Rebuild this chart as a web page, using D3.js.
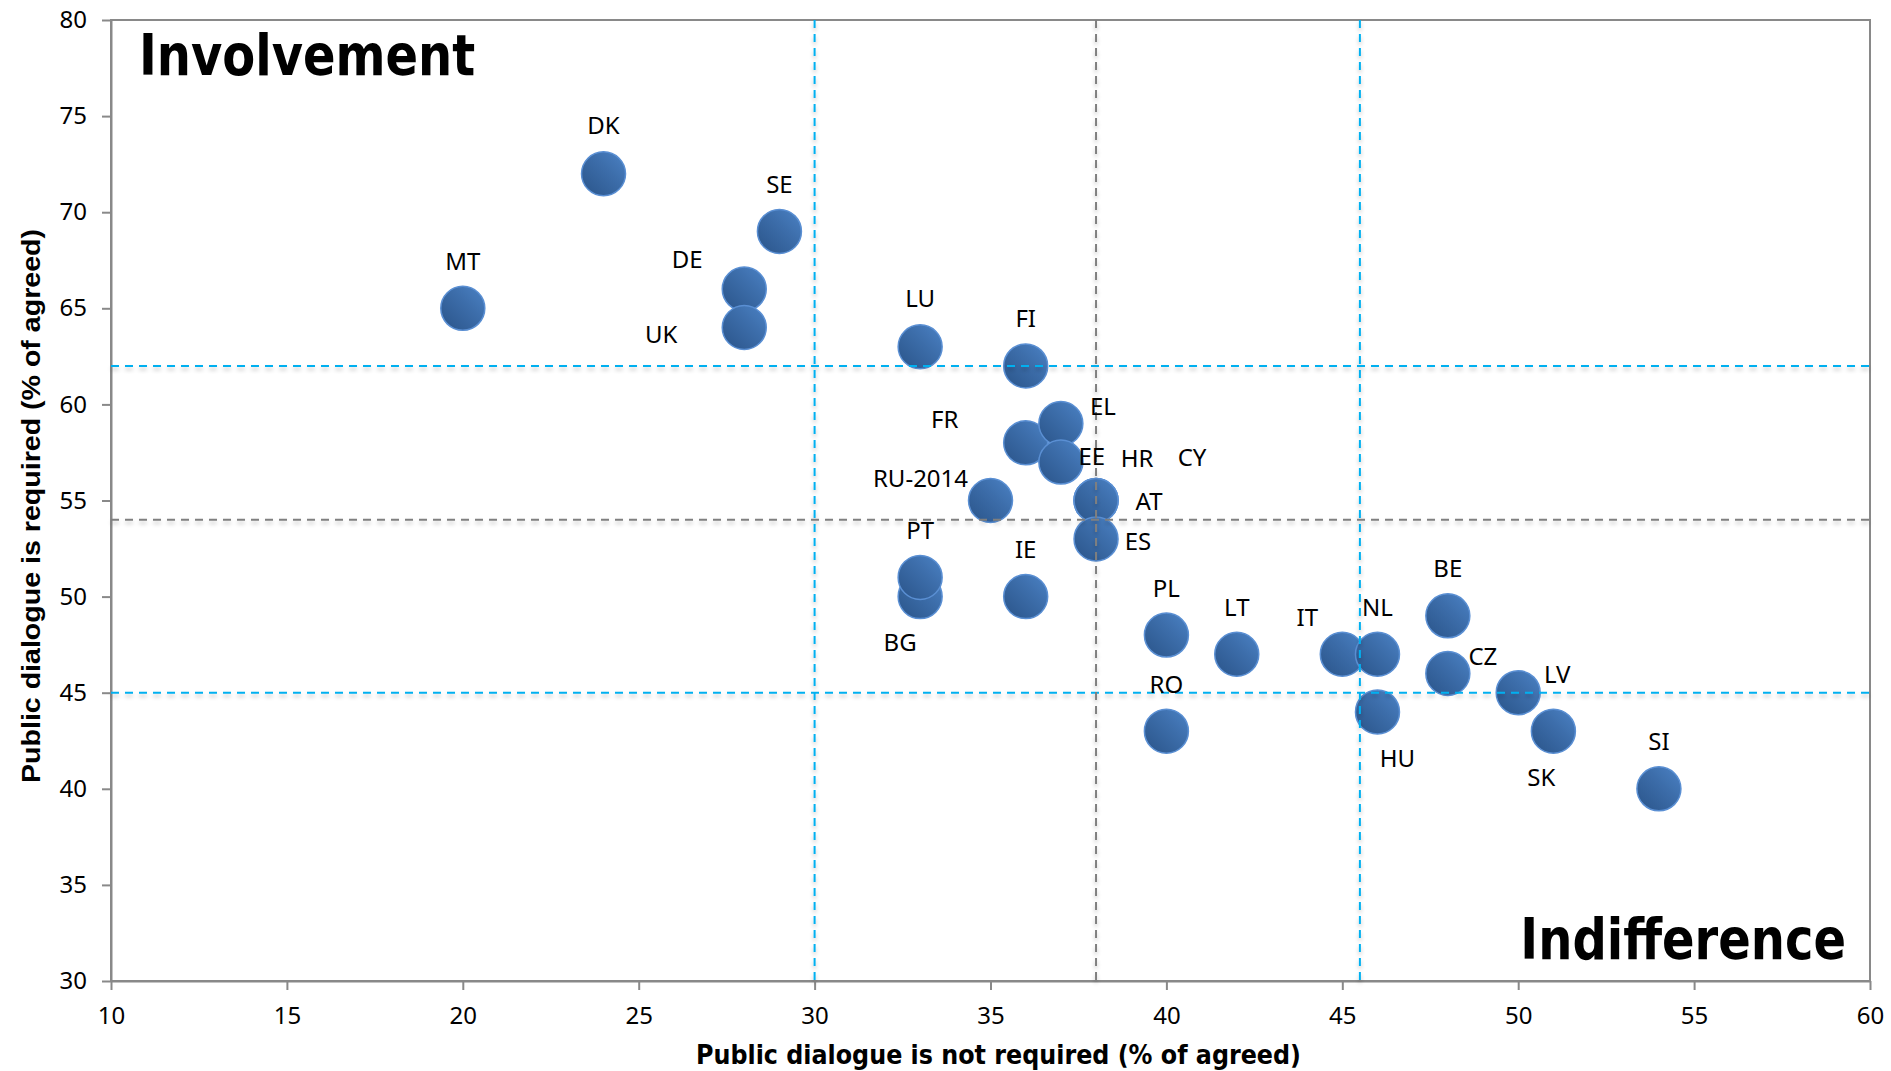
<!DOCTYPE html>
<meta charset="utf-8">
<style>
body { margin: 0; background: #fff; }
.tick text { font-family: "Noto Sans", sans-serif; font-size: 24px; fill: #000; }
.axis path, .axis line { stroke: #898989; stroke-width: 2px; }
.lbl { font-family: "Noto Sans", sans-serif; font-size: 24px; fill: #000; text-anchor: middle; }
.ref { fill: none; stroke-width: 2px; stroke-dasharray: 8,6; }
.quad { font-family: "DejaVu Sans", sans-serif; font-weight: bold; font-size: 48px; }
</style>
<body>
<script src="https://cdn.jsdelivr.net/npm/d3@7"></script>
<svg id="chart" width="1891" height="1071"></svg>
<script>
// data
var countries   = ["DK","SE","MT","DE","UK","LU","FI","FR","EL","EE","RU-2014","HR","CY","AT","ES","BG","PT","IE","PL","RO","LT","IT","NL","HU","BE","CZ","LV","SK","SI"];
var notRequired = [24, 29, 20, 28, 28, 33, 36, 36, 37, 37, 35, 38, 38, 38, 38, 33, 33, 36, 40, 40, 42, 45, 46, 46, 48, 48, 50, 51, 54];
var required    = [72, 69, 65, 66, 64, 63, 62, 58, 59, 57, 55, 55, 55, 55, 53, 50, 51, 50, 48, 43, 47, 47, 47, 44, 49, 46, 45, 43, 40];

var xTicks = [10, 15, 20, 25, 30, 35, 40, 45, 50, 55, 60];
var yTicks = [30, 35, 40, 45, 50, 55, 60, 65, 70, 75, 80];

var bandX = [30, 45.5];   // blue dashed
var bandY = [62, 45];
var meanX = [38];         // grey dashed
var meanY = [54];

// label placement relative to the bubble (px)
var labelOffset = {
  "DK":[0,-48], "SE":[0,-47], "MT":[0,-47], "DE":[-57,-30], "UK":[-83,7],
  "LU":[0,-48], "FI":[0,-48], "EL":[42,-17], "FR":[-81,-23], "EE":[31,-6],
  "HR":[41,-42], "CY":[96,-43], "AT":[53,1], "ES":[42,2], "RU-2014":[-70,-22],
  "PT":[0,-47], "BG":[-20,46], "IE":[0,-47], "PL":[0,-47], "RO":[0,-47],
  "LT":[0,-47], "IT":[-35,-37], "NL":[0,-47], "HU":[20,46], "BE":[0,-47],
  "CZ":[35,-17], "LV":[39,-18], "SK":[-12,46], "SI":[0,-47]
};

var margin = {left: 111, right: 21, top: 20, bottom: 90};
var svg = d3.select("#chart");
var W = +svg.attr("width"), H = +svg.attr("height");

var x = d3.scaleLinear().domain([10, 60]).range([margin.left, W - margin.right]);
var y = d3.scaleLinear().domain([30, 80]).range([H - margin.bottom, margin.top]);

var defs = svg.append("defs");
var grad = defs.append("linearGradient").attr("id", "bub")
  .attr("x1", 0).attr("y1", 1).attr("x2", 1).attr("y2", 0);
grad.append("stop").attr("offset", "0%").attr("stop-color", "#2a5489");
grad.append("stop").attr("offset", "60%").attr("stop-color", "#3d6eab");
grad.append("stop").attr("offset", "100%").attr("stop-color", "#4b82c5");

var shadow = defs.append("filter").attr("id", "shd").attr("x", "-5%").attr("y", "-200%").attr("width", "110%").attr("height", "500%");
shadow.append("feGaussianBlur").attr("in", "SourceAlpha").attr("stdDeviation", 2).attr("result", "b");
shadow.append("feOffset").attr("in", "b").attr("dy", 3).attr("result", "o");
shadow.append("feComponentTransfer").attr("in", "o").attr("result", "s")
  .append("feFuncA").attr("type", "linear").attr("slope", 0.25);
var mrg = shadow.append("feMerge");
mrg.append("feMergeNode").attr("in", "s");
mrg.append("feMergeNode").attr("in", "SourceGraphic");

// plot frame
svg.append("rect")
  .attr("x", x(10)).attr("y", y(80))
  .attr("width", x(60) - x(10)).attr("height", y(30) - y(80))
  .attr("fill", "none").attr("stroke", "#898989").attr("stroke-width", 2);

svg.append("g").attr("class", "axis")
  .attr("transform", "translate(0," + y(30) + ")")
  .call(d3.axisBottom(x).tickValues(xTicks).tickSize(9).tickPadding(17).tickSizeOuter(0));

svg.append("g").attr("class", "axis")
  .attr("transform", "translate(" + x(10) + ",0)")
  .call(d3.axisLeft(y).tickValues(yTicks).tickSize(9).tickPadding(15).tickSizeOuter(0));

var pts = countries.map(function(c, i) {
  return {name: c, x: notRequired[i], y: required[i]};
});

svg.append("g").selectAll("circle").data(pts).enter().append("circle")
  .attr("cx", function(d) { return x(d.x); })
  .attr("cy", function(d) { return y(d.y); })
  .attr("r", 22)
  .attr("fill", "url(#bub)")
  .attr("stroke", "#5a8fd3")
  .attr("stroke-width", 1.5);

// reference lines
var refs = svg.append("g").attr("filter", "url(#shd)");
bandX.forEach(function(v) {
  refs.append("line").attr("class", "ref").attr("stroke", "#00b0f0")
    .attr("x1", x(v)).attr("x2", x(v)).attr("y1", y(80)).attr("y2", y(30));
});
bandY.forEach(function(v) {
  refs.append("line").attr("class", "ref").attr("stroke", "#00b0f0")
    .attr("x1", x(10)).attr("x2", x(60)).attr("y1", y(v)).attr("y2", y(v));
});
meanX.forEach(function(v) {
  refs.append("line").attr("class", "ref").attr("stroke", "#7f7f7f")
    .attr("x1", x(v)).attr("x2", x(v)).attr("y1", y(80)).attr("y2", y(30));
});
meanY.forEach(function(v) {
  refs.append("line").attr("class", "ref").attr("stroke", "#7f7f7f")
    .attr("x1", x(10)).attr("x2", x(60)).attr("y1", y(v)).attr("y2", y(v));
});

svg.append("g").selectAll("text").data(pts).enter().append("text")
  .attr("class", "lbl")
  .attr("x", function(d) { return x(d.x) + labelOffset[d.name][0]; })
  .attr("y", function(d) { return y(d.y) + labelOffset[d.name][1]; })
  .attr("dy", "0.36em")
  .text(function(d) { return d.name; });

// quadrant captions (stretched vertically to mimic the tall bold face)
svg.append("text").attr("class", "quad")
  .attr("transform", "translate(139,75) scale(1,1.19)")
  .text("Involvement");
svg.append("text").attr("class", "quad")
  .attr("transform", "translate(1846,959) scale(1,1.19)")
  .attr("text-anchor", "end")
  .text("Indifference");

// axis titles
svg.append("text").attr("x", 696).attr("y", 1064)
  .attr("font-family", "DejaVu Sans, sans-serif").attr("font-weight", "bold")
  .attr("font-size", 27).attr("textLength", 605).attr("lengthAdjust", "spacingAndGlyphs")
  .text("Public dialogue is not required (% of agreed)");
svg.append("text")
  .attr("transform", "translate(40,783) rotate(-90)")
  .attr("font-family", "Liberation Sans, Arial, sans-serif").attr("font-weight", "bold")
  .attr("font-size", 25).attr("textLength", 554).attr("lengthAdjust", "spacingAndGlyphs")
  .text("Public dialogue is required (% of agreed)");
</script>
</body>
